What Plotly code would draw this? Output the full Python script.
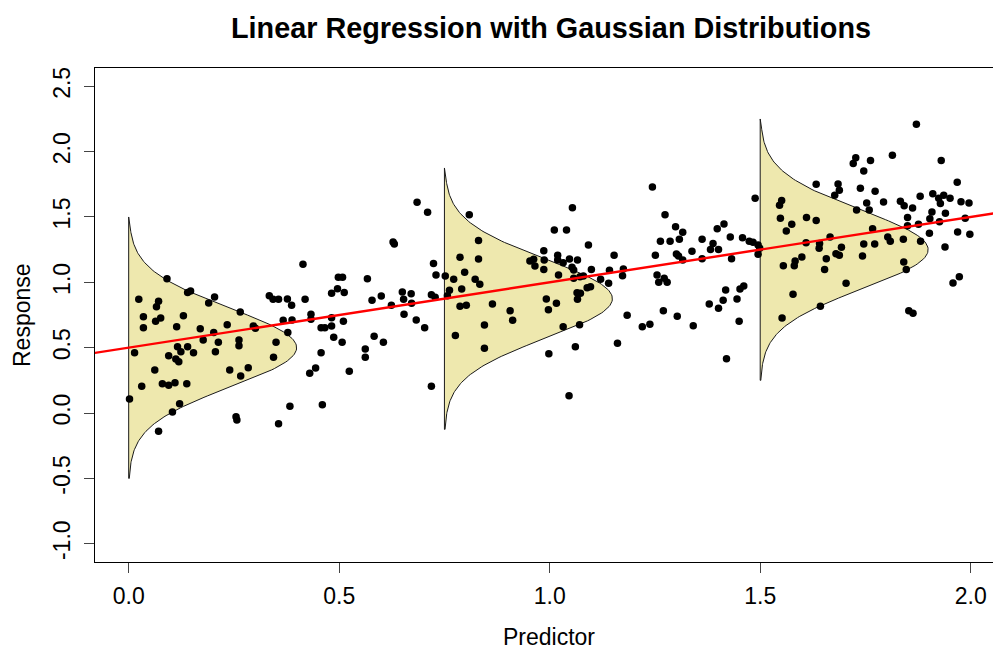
import numpy as np
import plotly.graph_objects as go

# ---------------- data ----------------
predictor = [
    0.414, 0.091, 0.498, 0.140, 0.147, 0.204, 0.190, 0.024, 0.071, 0.066,
    0.334, 0.343, 0.356, 0.377, 0.387, 0.419, 0.482, 0.496, 0.265, 0.035,
    0.130, 0.076, 0.064, 0.433, 0.433, 0.367, 0.388, 0.482, 0.234, 0.296,
    0.301, 0.035, 0.114, 0.170, 0.202, 0.457, 0.466, 0.482, 0.378, 0.487,
    0.262, 0.262, 0.177, 0.213, 0.350, 0.116, 0.124, 0.140, 0.014, 0.154,
    0.206, 0.095, 0.112, 0.119, 0.344, 0.457, 0.062, 0.240, 0.284, 0.266,
    0.444, 0.430, 0.031, 0.080, 0.095, 0.110, 0.138, 0.002, 0.121, 0.104,
    0.383, 0.460, 0.255, 0.257, 0.356, 0.071, 0.685, 0.710, 0.809, 1.011,
    0.628, 0.631, 0.831, 0.787, 0.831, 0.986, 0.953, 0.962, 0.965, 0.987,
    0.986, 1.019, 1.019, 0.724, 0.798, 0.730, 0.752, 0.772, 0.823, 0.834,
    0.508, 0.567, 1.021, 0.512, 0.650, 0.671, 0.600, 0.578, 0.653, 0.672,
    0.719, 0.728, 0.762, 0.757, 0.791, 0.624, 0.654, 0.683, 0.703, 0.510,
    0.787, 0.802, 0.864, 0.906, 0.912, 0.845, 0.992, 0.997, 1.016, 0.507,
    0.583, 0.605, 0.562, 0.562, 0.524, 0.719, 0.776, 0.845, 0.998, 1.244,
    1.054, 1.274, 1.488, 1.040, 1.299, 1.316, 1.398, 1.414, 1.092, 1.263,
    1.286, 1.308, 1.362, 1.388, 1.382, 1.401, 1.429, 1.458, 1.474, 1.483,
    1.495, 1.499, 1.495, 1.338, 1.301, 1.306, 1.316, 1.362, 1.432, 1.251,
    1.153, 1.032, 1.047, 1.066, 1.053, 1.057, 1.099, 1.142, 1.175, 1.173,
    1.057, 1.072, 1.080, 1.121, 1.140, 1.255, 1.272, 1.279, 1.259, 1.089,
    1.097, 1.065, 1.073, 1.066, 1.418, 1.461, 1.452, 1.412, 1.445, 1.379,
    1.401, 1.270, 1.184, 1.303, 1.032, 1.071, 1.220, 1.238, 1.341, 1.450,
    1.061, 1.161, 1.420, 1.046, 1.871, 1.814, 1.930, 1.727, 1.721, 1.762,
    1.746, 1.968, 1.633, 1.685, 1.688, 1.677, 1.738, 1.773, 1.551, 1.546,
    1.753, 1.759, 1.793, 1.833, 1.842, 1.862, 1.880, 1.910, 1.924, 1.936,
    1.928, 1.951, 1.977, 1.996, 1.729, 1.548, 1.610, 1.633, 1.575, 1.562,
    1.908, 1.903, 1.940, 1.926, 1.987, 1.850, 1.850, 1.876, 1.767, 1.902,
    1.969, 1.998, 1.666, 1.803, 1.809, 1.840, 1.881, 1.609, 1.641, 1.640,
    1.693, 1.746, 1.772, 1.939, 1.680, 1.688, 1.657, 1.599, 1.743, 1.583,
    1.581, 1.555, 1.653, 1.841, 1.847, 1.973, 1.704, 1.578, 1.643, 1.552,
    1.958, 1.853, 1.863,
]
response = [
    1.138, 1.028, 1.038, 0.923, 0.933, 0.888, 0.842, 0.870, 0.855, 0.813,
    0.897, 0.870, 0.870, 0.872, 0.824, 0.870, 0.916, 0.951, 0.773, 0.737,
    0.744, 0.727, 0.702, 0.755, 0.717, 0.709, 0.712, 0.729, 0.676, 0.666,
    0.648, 0.653, 0.660, 0.645, 0.617, 0.653, 0.653, 0.666, 0.617, 0.579,
    0.559, 0.515, 0.559, 0.541, 0.541, 0.507, 0.469, 0.507, 0.461, 0.461,
    0.469, 0.438, 0.413, 0.393, 0.426, 0.461, 0.329, 0.329, 0.347, 0.283,
    0.344, 0.304, 0.204, 0.224, 0.212, 0.232, 0.224, 0.107, 0.071, 0.008,
    0.051, 0.064, -0.028, -0.054, -0.082, -0.140, 1.612, 1.536, 1.517, 1.400,
    1.308, 1.293, 1.321, 1.191, 1.178, 1.242, 1.163, 1.176, 1.125, 1.171,
    1.099, 1.207, 1.171, 1.145, 1.077, 1.056, 1.048, 1.023, 1.023, 0.985,
    1.038, 1.028, 1.056, 0.923, 0.926, 0.913, 0.895, 0.862, 0.870, 0.839,
    0.905, 0.885, 0.939, 0.897, 0.949, 0.824, 0.755, 0.712, 0.653, 0.702,
    0.816, 0.824, 0.834, 0.783, 0.709, 0.673, 0.872, 0.790, 0.839, 0.541,
    0.587, 0.541, 0.490, 0.426, 0.319, 0.204, 0.594, 0.495, 0.454, 1.729,
    1.571, 1.517, 1.643, 1.400, 1.425, 1.383, 1.410, 1.446, 1.285, 1.314,
    1.314, 1.329, 1.329, 1.298, 1.252, 1.252, 1.347, 1.341, 1.314, 1.306,
    1.285, 1.260, 1.214, 1.237, 1.217, 1.201, 1.171, 1.181, 1.181, 1.207,
    1.207, 1.150, 1.178, 1.171, 1.115, 1.094, 1.099, 1.092, 1.102, 1.050,
    1.031, 1.043, 1.048, 1.023, 0.992, 1.056, 1.031, 1.000, 1.000, 0.959,
    0.966, 0.920, 0.916, 0.870, 0.941, 0.972, 0.949, 0.862, 0.872, 0.834,
    0.801, 0.783, 0.748, 0.740, 0.660, 0.676, 0.660, 0.679, 0.668, 0.702,
    0.507, 0.533, 0.415, 0.132, 2.209, 1.972, 1.933, 1.953, 1.910, 1.933,
    1.852, 1.765, 1.750, 1.752, 1.704, 1.666, 1.719, 1.696, 1.627, 1.589,
    1.607, 1.553, 1.614, 1.620, 1.586, 1.568, 1.658, 1.678, 1.643, 1.666,
    1.604, 1.643, 1.617, 1.607, 1.553, 1.490, 1.497, 1.474, 1.444, 1.393,
    1.538, 1.487, 1.528, 1.464, 1.490, 1.497, 1.433, 1.444, 1.410, 1.375,
    1.385, 1.367, 1.347, 1.347, 1.314, 1.329, 1.314, 1.303, 1.298, 1.260,
    1.268, 1.293, 1.293, 1.270, 1.219, 1.207, 1.181, 1.194, 1.201, 1.163,
    1.127, 1.127, 1.099, 1.155, 1.099, 1.043, 0.992, 0.908, 0.816, 0.727,
    0.995, 0.783, 0.763,
]

intercept = 0.5
slope = 0.5
dist_centers = [0.0, 0.75, 1.5]   # predictor positions of the gaussian curves
dist_sd = 0.3
dist_halfspan = 1.0
dist_scale = 0.3

x_ticks = [0.0, 0.5, 1.0, 1.5, 2.0]
x_tick_labels = ["0.0", "0.5", "1.0", "1.5", "2.0"]
y_ticks = [-1.0, -0.5, 0.0, 0.5, 1.0, 1.5, 2.0, 2.5]
y_tick_labels = ["-1.0", "-0.5", "0.0", "0.5", "1.0", "1.5", "2.0", "2.5"]

title_text = "Linear Regression with Gaussian Distributions"
x_label = "Predictor"
y_label = "Response"

# ---------------- figure ----------------
FONT = "Liberation Sans, Arial, Helvetica, sans-serif"
PW, PH = 898, 494  # plot area size in px
fig = go.Figure()

# gaussian density polygons
for xc in dist_centers:
    mu = intercept + slope * xc
    yy = np.linspace(mu - dist_halfspan, mu + dist_halfspan, 201)
    dens = np.exp(-0.5 * ((yy - mu) / dist_sd) ** 2) / (dist_sd * np.sqrt(2 * np.pi))
    xx = xc + dist_scale * dens
    px = np.concatenate([[xc], xx, [xc, xc]])
    py = np.concatenate([[yy[0]], yy, [yy[-1], yy[0]]])
    fig.add_trace(go.Scatter(
        x=px, y=py, mode="lines", fill="toself",
        fillcolor="rgba(237,231,170,0.95)",
        line=dict(color="#1a1a1a", width=1),
        hoverinfo="skip", showlegend=False,
    ))

# scatter points
fig.add_trace(go.Scatter(
    x=predictor, y=response, mode="markers",
    marker=dict(color="black", size=7.5, line=dict(width=0)),
    showlegend=False,
))

# regression line
xl = np.array([-0.2, 2.3])
fig.add_trace(go.Scatter(
    x=xl, y=intercept + slope * xl, mode="lines",
    line=dict(color="#ff0000", width=2.4),
    hoverinfo="skip", showlegend=False,
))

fig.update_layout(
    width=993, height=650,
    margin=dict(l=95, r=0, t=68, b=88),
    paper_bgcolor="white", plot_bgcolor="white",
    font=dict(family=FONT, size=23, color="black"),
    showlegend=False,
    annotations=[
        dict(text="<b>" + title_text + "</b>", xref="paper", yref="paper",
             x=(551 - 95) / PW, y=1 + 40 / PH, xanchor="center", yanchor="middle",
             showarrow=False, font=dict(family=FONT, size=28.8, color="black")),
        dict(text=x_label, xref="paper", yref="paper",
             x=(549 - 95) / PW, y=-(637 - 562) / PH, xanchor="center", yanchor="middle",
             showarrow=False, font=dict(family=FONT, size=23, color="black")),
        dict(text=y_label, xref="paper", yref="paper",
             x=-(95 - 22) / PW, y=0.5, xanchor="center", yanchor="middle", textangle=-90,
             showarrow=False, font=dict(family=FONT, size=23, color="black")),
    ],
)

fig.update_xaxes(
    range=[-0.08, 2.053], tickvals=x_ticks, ticktext=x_tick_labels,
    showgrid=False, zeroline=False,
    showline=True, linecolor="black", linewidth=1.2, mirror=True,
    ticks="outside", ticklen=10, tickwidth=1.2, tickcolor="#444",
    ticklabelstandoff=3,
    tickfont=dict(family=FONT, size=23, color="black"),
)
fig.update_yaxes(
    range=[-1.14, 2.64], tickvals=y_ticks, ticktext=y_tick_labels,
    showgrid=False, zeroline=False,
    showline=True, linecolor="black", linewidth=1.2, mirror=False,
    ticks="outside", ticklen=10, tickwidth=1.2, tickcolor="#444",
    tickangle=-90, ticklabelstandoff=5,
    tickfont=dict(family=FONT, size=23, color="black"),
)

fig.write_html(
    "out.html",
    config={"displayModeBar": False},
    post_script="document.body.style.margin='0';document.body.style.overflow='hidden';",
)
